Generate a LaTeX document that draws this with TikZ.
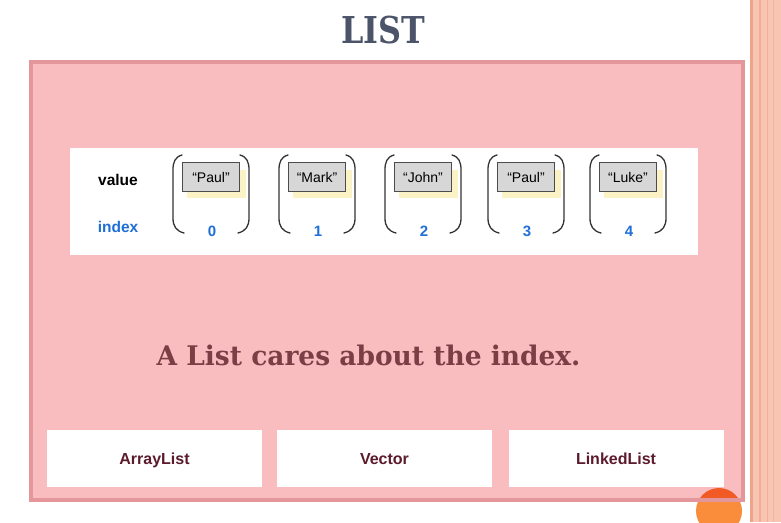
\documentclass[tikz,border=0pt]{standalone}
\usepackage{fontspec}
\setmainfont{Liberation Sans}
\newfontfamily\seriffont{DejaVu Serif}
\usepackage{graphicx}
\definecolor{panelfill}{HTML}{F9BDC0}
\definecolor{panelline}{HTML}{E3979A}
\definecolor{titlecol}{HTML}{4B5468}
\definecolor{sentcol}{HTML}{7A3E44}
\definecolor{boxtext}{HTML}{5C1B2C}
\definecolor{idxblue}{HTML}{1F6FD8}
\definecolor{salmon}{HTML}{F7C5B1}
\definecolor{salmondark}{HTML}{EDA489}
\definecolor{shadowy}{HTML}{FBF2C6}
\definecolor{cellgray}{HTML}{D7D7D7}
\definecolor{orangeA}{HTML}{F15A24}
\definecolor{orangeB}{HTML}{F98D3B}
\tikzset{
  valbox/.style={draw=black!70, line width=0.9pt, fill=cellgray, minimum width=57pt, minimum height=29pt, inner sep=0pt, font=\fontsize{14}{16}\selectfont},
  idxlabel/.style={text=idxblue, font=\bfseries\fontsize{15}{17}\selectfont, inner sep=0pt},
  implbox/.style={fill=white, minimum width=215pt, minimum height=57pt, inner sep=0pt, text height=12pt, text depth=1pt, text=boxtext, font=\bfseries\fontsize{16}{18}\selectfont},
  parenline/.style={line width=1.3pt, draw=black!80, line cap=round},
}
\begin{document}
\begin{tikzpicture}[x=1pt,y=-1pt]
\useasboundingbox (0,0) rectangle (781,522);
\fill[white] (0,0) rectangle (781,522);
% right decorative stripes
\fill[salmon] (749.5,0) rectangle (781,522);
\fill[salmondark] (750,0) rectangle (752.5,522);
\fill[salmondark!70!salmon] (759,0) rectangle (760.5,522);
\fill[salmondark!60!salmon] (767,0) rectangle (768,522);
\fill[salmondark!50!salmon] (773,0) rectangle (774,522);
% title
\node[text=titlecol, font=\seriffont\bfseries\fontsize{37}{40}\selectfont, inner sep=0pt] (title) at (383,30) {\scalebox{0.86}[1]{LIST}};
% panel
\fill[panelfill] (31,62) rectangle (743,500);
% orange circle
\begin{scope}
\clip (696,488) rectangle (745,499);
\fill[orangeA] (719,511) circle (23);
\end{scope}
\begin{scope}
\clip (696,499) rectangle (745,530);
\fill[orangeB] (719,511) circle (23);
\end{scope}
\draw[panelline, line width=3.5pt] (31,62) rectangle (743,500);
% white strip
\fill[white] (70,148) rectangle (698,255);
\node[font=\bfseries\fontsize{15.5}{17}\selectfont, inner sep=0pt] (vlab) at (118,180) {value};
\node[text=idxblue, font=\bfseries\fontsize{15.5}{17}\selectfont, inner sep=0pt] (ilab) at (118,227) {index};
% cells
\foreach \c/\t/\i in {211/Paul/0, 317/Mark/1, 423/John/2, 526/Paul/3, 628/Luke/4}{
  \fill[shadowy] (\c-24,184) rectangle (\c+35,198);
  \fill[shadowy] (\c+24,170) rectangle (\c+35,198);
  \node[valbox] (box\i) at (\c,177) {“\t”};
  \node[idxlabel] (idx\i) at (\c+1,231) {\i};
  \draw[parenline] (\c-29,155) .. controls (\c-36,157) and (\c-38,162) .. (\c-38,170) -- (\c-38,218) .. controls (\c-38,226) and (\c-35,231) .. (\c-27,233);
  \draw[parenline] (\c+29,155) .. controls (\c+36,157) and (\c+38,162) .. (\c+38,170) -- (\c+38,218) .. controls (\c+38,226) and (\c+35,231) .. (\c+27,233);
}
% sentence
\node[text=sentcol, font=\seriffont\bfseries\fontsize{27}{30}\selectfont, inner sep=0pt] (sent) at (368.5,355) {\scalebox{0.98}[1]{A List cares about the index.}};
% implementations
\node[implbox] (arraylist) at (154.5,458.5) {ArrayList};
\node[implbox] (vector) at (384.5,458.5) {Vector};
\node[implbox] (linkedlist) at (616,458.5) {LinkedList};
\end{tikzpicture}
\end{document}
